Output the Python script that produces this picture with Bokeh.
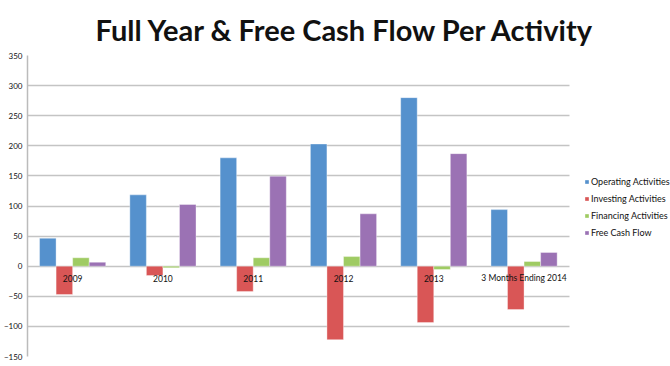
from bokeh.plotting import figure
from bokeh.models import Range1d, ColumnDataSource, Legend, LegendItem, Grid
from bokeh.core.properties import value
from bokeh.embed import file_html
from bokeh.resources import INLINE

categories = ["2009", "2010", "2011", "2012", "2013", "3 Months Ending 2014"]
operating = [46.5, 118.5, 180, 203, 280, 94]
investing = [-47, -15.5, -42, -122, -93.5, -72]
financing = [14, -2.7, 14, 16, -5.5, 7.8]
free_cash = [6.6, 102.5, 149.5, 87, 187, 22.8]
series_names = ["Operating Activities", "Investing Activities", "Financing Activities", "Free Cash Flow"]
colors = ["#5591CD", "#D95656", "#9FCB63", "#9B72B4"]
y_ticks = [-150, -100, -50, 0, 50, 100, 150, 200, 250, 300, 350]

n = len(categories)
centers = [i + 0.5 for i in range(n)]
src = ColumnDataSource(dict(cat=categories, xc=centers, op=operating, inv=investing, fin=financing,
                            fcf=free_cash, zero=[0] * n))

# frame spans to the right edge so the legend (drawn inside the frame) is visible;
# the category area covers 6 of the 7.12 x units
p = figure(width=670, height=362, x_range=Range1d(0, 7.122),
           y_range=Range1d(-150, 350), output_backend="svg", toolbar_location=None,
           min_border_left=0, min_border_right=0, min_border_top=55, min_border_bottom=6)
p.outline_line_color = None
p.background_fill_color = "white"
p.border_fill_color = "white"

p.title.text = "Full Year & Free Cash Flow Per Activity"
p.title.text_font = "Lato"
p.title.text_font_style = "bold"
p.title.text_font_size = "29px"
p.title.text_color = "#111111"
p.title.align = "left"
p.title.offset = 68
p.title.standoff = 17

p.xaxis.visible = False
p.xgrid.visible = False
if "cross_bounds" in Grid.properties():
    p.ygrid.cross_bounds = (0, n)
    p.ygrid.grid_line_color = "#c4c4c4"
    p.ygrid.grid_line_width = 1.5
    p.ygrid.ticker = y_ticks
else:
    p.ygrid.visible = False
    p.segment(x0=[0] * len(y_ticks), x1=[n] * len(y_ticks), y0=y_ticks, y1=y_ticks,
              line_color="#c4c4c4", line_width=1.5)

keys = ["op", "inv", "fin", "fcf"]
offsets = [-0.275, -0.0917, 0.0917, 0.275]
renderers = []
for k, off, c in zip(keys, offsets, colors):
    xs = [x + off for x in centers]
    s = ColumnDataSource(dict(x=xs, top=src.data[k], bottom=[0] * n))
    r = p.vbar(x="x", top="top", bottom="bottom", width=0.183, source=s,
               fill_color=c, line_color="white", line_width=0.6, line_alpha=0.6)
    renderers.append(r)

p.text(x="xc", y="zero", text="cat", source=src, text_font=value("Lato"), text_font_size="8.5px",
       text_align="center", text_baseline="middle", y_offset=12, text_color="#111111")

p.yaxis.ticker = y_ticks
p.yaxis.bounds = (-150, 350)
p.yaxis.axis_line_color = "#bbbbbb"
p.yaxis.axis_line_width = 1.5
p.yaxis.major_tick_line_color = None
p.yaxis.minor_tick_line_color = None
p.yaxis.major_tick_out = 0
p.yaxis.major_tick_in = 0
p.yaxis.minor_tick_out = 0
p.yaxis.minor_tick_in = 0
p.yaxis.major_label_standoff = 5
p.yaxis.major_label_text_font = "Lato"
p.yaxis.major_label_text_font_size = "8px"
p.yaxis.major_label_text_color = "#111111"

legend = Legend(items=[LegendItem(label=nm, renderers=[r]) for nm, r in zip(series_names, renderers)],
                location=(557, 118), glyph_width=5, glyph_height=5, label_standoff=2,
                label_height=10, spacing=6, padding=0, margin=0, border_line_color=None,
                background_fill_alpha=0, label_text_font="Lato", label_text_font_size="9px",
                label_text_color="#111111")
p.add_layout(legend, "center")

open("out.html", "w").write(file_html(p, INLINE))
